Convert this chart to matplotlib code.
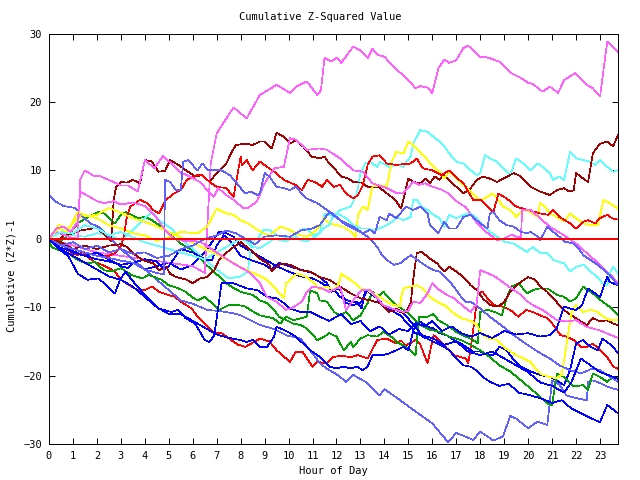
import matplotlib
matplotlib.use("Agg")
import matplotlib.pyplot as plt

# (hour, cumulative value), one list per trace
magenta_1 = [(0, 0), (1, -1), (2, -2), (3, -2.5), (4, -3), (5, -3.5), (6, -4), (6.5, -5), (6.75, 11),
             (7.0, 15.4), (7.7, 19.2), (8.25, 17.6), (8.8, 21), (9.5, 22.5), (10.06, 21.3), (10.3, 22.2),
             (10.76, 23), (11.2, 21), (11.35, 21.7), (11.5, 26.4), (11.8, 25.9), (12.0, 26.5), (12.2, 25.7),
             (12.7, 28.1), (13.0, 27.5), (13.3, 26.4), (13.5, 27.8), (13.7, 26.9), (14.0, 26.6), (14.5, 24.7),
             (14.8, 23.9), (15.3, 22), (15.5, 22.3), (15.8, 22.1), (16.0, 21.3), (16.25, 24.9), (16.5, 26.2),
             (16.7, 25.7), (17.0, 26.1), (17.3, 27.9), (17.5, 28.2), (18.0, 26.6), (18.3, 26.5), (18.8, 25.9),
             (19.3, 24.2), (19.7, 23.5), (20.0, 22.8), (20.2, 22.6), (20.6, 21.5), (20.9, 22.2), (21.0, 22.0),
             (21.25, 21.3), (21.5, 23.2), (21.96, 24.2), (22.45, 22.5), (22.7, 22.0), (23.0, 20.8), (23.3, 28.8),
             (23.75, 27.3)]
magenta_2 = [(0, 0), (0.3, 1), (0.6, 0.6), (0.9, 0.2), (1.2, 0), (1.3, 8.6), (1.5, 10), (1.9, 9.1), (2.1, 9.2),
             (2.5, 8.6), (3.0, 7.8), (3.3, 7.8), (3.7, 6.9), (4.0, 11.5), (4.4, 10.3), (4.76, 12.1), (5.1, 11.0),
             (5.5, 9.6), (5.7, 9.4), (6.3, 8.3), (6.87, 6.1), (7.06, 7.4), (7.4, 6.4), (7.7, 5.7), (8.1, 4.5),
             (8.3, 4.5), (8.67, 5.4), (9.0, 8.1), (9.4, 10.3), (9.8, 10.5), (10.06, 14.7), (10.3, 14.5),
             (10.76, 13), (11.3, 13.2), (11.6, 13.0), (12.15, 11.75), (12.7, 10), (13.1, 9.8), (13.5, 8.1),
             (14.1, 7.4), (14.5, 6.7), (14.75, 6.6), (14.9, 7.1), (15.2, 8.3), (15.45, 7.9), (15.7, 8.1),
             (16.0, 7.6), (16.3, 7.3), (16.6, 6.8), (17.0, 5.5), (17.4, 4.6), (17.8, 2.6), (18.2, 1.1),
             (18.7, -0.2), (19.0, 0.0), (19.3, 0.6), (19.5, 0.3), (19.7, 0.2), (19.75, 4.2), (20.1, 4.2),
             (20.5, 3.0), (20.9, 1.75), (21.5, 0.5), (22.0, -0.7), (22.45, -2.1), (23.0, -3.8), (23.5, -5.5),
             (23.75, -6.5)]
magenta_3 = [(0, 0), (0.3, 1.5), (0.6, 1.8), (0.9, 1.0), (1.2, 2.5), (1.3, 6.9), (1.6, 6.3), (2, 5.5),
             (2.3, 5.2), (2.7, 5.5), (3, 5), (3.5, 5.3), (4, 4.8), (4.5, 3), (4.8, 1.5), (5.2, 0), (5.6, -0.3),
             (6.3, -0.4), (7.0, -2), (7.7, -3.6), (8.4, -5), (8.8, -6.5), (9.1, -8.5), (9.5, -9.2), (9.9, -10.4),
             (10.2, -10), (10.55, -9.2), (10.76, -7.75), (11, -7), (11.35, -7.2), (11.7, -7.75), (12.15, -7),
             (12.4, -10.4), (12.7, -9), (13.05, -7.5), (13.4, -7.5), (13.6, -8.3), (13.95, -9.7), (14.4, -10.3),
             (14.8, -10.7), (15.0, -10.5), (15.2, -9.2), (15.5, -9.4), (15.8, -8), (16.0, -6.5), (16.3, -7.5),
             (16.6, -8.2), (16.9, -8.7), (17.3, -9.9), (17.6, -10.7), (17.85, -9.5), (18.0, -4.6), (18.3, -5.0),
             (18.6, -5.5), (18.8, -6), (19.2, -7), (19.7, -8.2), (19.9, -9), (20.2, -9.7), (20.6, -10.4),
             (21.2, -11.9), (21.6, -12.1), (22.0, -11.9), (22.45, -12.9), (23.0, -13.4), (23.4, -14.0),
             (23.75, -14.5)]
darkred_1 = [(0, 0), (0.3, -0.5), (0.6, 0.5), (1.0, 0.8), (1.3, 1.2), (2.0, 1.6), (2.25, 0.8), (2.5, 0),
             (2.6, -0.3), (2.7, 5.7), (2.8, 7.6), (3.0, 8.3), (3.25, 8.2), (3.5, 8.6), (3.7, 8.3), (3.8, 8.1),
             (4.0, 11.5), (4.3, 11.3), (4.56, 9.8), (4.84, 9.9), (5.05, 11.5), (5.4, 10.8), (5.8, 9.8),
             (6.1, 9.1), (6.4, 9.3), (6.7, 8.3), (7.0, 9.6), (7.4, 11), (7.6, 12.5), (7.8, 13.7), (8.2, 13.9),
             (8.5, 13.7), (8.8, 14.2), (9.0, 14.2), (9.3, 13.2), (9.5, 15.5), (9.8, 14.9), (10.06, 13.9),
             (10.3, 14.4), (10.6, 13.5), (10.97, 12), (11.3, 11.75), (11.5, 12), (11.7, 11), (11.9, 10.3),
             (12.2, 9.1), (12.5, 8.8), (12.7, 8.3), (13.05, 8.2), (13.3, 7.6), (13.75, 7.6), (14.0, 6.9),
             (14.45, 5.7), (14.7, 4.4), (15.0, 8.8), (15.2, 8.3), (15.5, 8.1), (15.7, 8.8), (15.9, 8.1),
             (16.1, 9.1), (16.3, 8.6), (16.5, 9.3), (16.7, 8.6), (17.0, 7.6), (17.3, 6.6), (17.6, 7.4),
             (17.86, 8.6), (18.1, 9.1), (18.4, 8.8), (18.7, 8.3), (18.97, 8.8), (19.4, 9.6), (19.7, 9.1),
             (20.1, 7.6), (20.5, 6.9), (20.9, 6.4), (21.2, 7.1), (21.5, 7.4), (21.7, 6.9), (21.9, 7.1),
             (22.0, 9.6), (22.3, 8.8), (22.5, 8.3), (22.7, 12.5), (23.0, 13.9), (23.3, 14.2), (23.55, 13.5),
             (23.75, 15.2)]
darkred_2 = [(0, 0), (0.5, -0.5), (1, -1.5), (1.5, -1), (2, -1.5), (2.5, -1), (3, -0.8), (3.25, -1.2),
             (3.5, -2.1), (3.9, -3.1), (4.35, -3.6), (4.6, -4.6), (4.9, -4.1), (5.05, -5.1), (5.3, -5.6),
             (5.75, -6.0), (6.0, -6.5), (6.3, -5.8), (6.6, -5.6), (6.9, -4.6), (7.1, -3.1), (7.55, -1.6),
             (8.0, -0.5), (8.4, -1.6), (8.8, -2.9), (9.2, -3.8), (9.3, -4.8), (9.65, -3.6), (10.06, -3.8),
             (10.5, -4.6), (10.9, -4.8), (11.3, -5.6), (11.7, -6.0), (12.15, -7.0), (12.6, -8.0), (13.0, -8.7),
             (13.4, -9.0), (13.8, -9.4), (14.2, -10.7), (14.5, -10.2), (14.8, -10.9), (14.9, -10.7),
             (15.1, -9.4), (15.2, -6.0), (15.35, -2.1), (15.55, -1.9), (15.9, -2.9), (16.2, -3.6), (16.5, -4.8),
             (16.7, -4.1), (17.0, -4.8), (17.3, -5.6), (17.6, -6.8), (17.86, -7.5), (18.1, -8.7), (18.4, -9.7),
             (18.7, -9.9), (18.97, -9.4), (19.25, -7.75), (19.46, -7.0), (19.7, -6.3), (20.0, -5.6),
             (20.3, -6.0), (20.5, -7.0), (20.8, -7.75), (21.05, -8.7), (21.3, -9.7), (21.6, -10.7),
             (21.9, -11.4), (22.2, -12.1), (22.45, -12.6), (22.7, -11.6), (23.0, -12.1), (23.3, -11.9),
             (23.55, -12.4), (23.75, -12.6)]
red_1 = [(0, 0), (0.25, -0.4), (0.67, -1.2), (0.95, -2.1), (1.2, -2.4), (1.4, -1.9), (1.6, -2.6), (1.9, -3.4),
         (2.2, -3.8), (2.5, -4.3), (2.75, -4.8), (3.0, -6.0), (3.45, -7.0), (3.7, -7.5), (4.0, -7.5), (4.3, -7.0),
         (4.6, -7.75), (4.98, -8.2), (5.26, -8.5), (5.5, -9.2), (5.96, -10.2), (6.2, -11.4), (6.65, -12.9),
         (6.9, -13.8), (7.2, -13.8), (7.6, -14.8), (7.9, -15.5), (8.2, -15.8), (8.5, -15.2), (8.8, -14.6),
         (9.2, -15), (9.5, -16.3), (10.06, -18), (10.3, -16.5), (10.6, -16.6), (11.0, -18.7), (11.2, -18.0),
         (11.6, -18.2), (11.86, -17.3), (12.2, -17.1), (12.6, -17.3), (12.9, -17.0), (13.3, -17.5),
         (13.7, -14.8), (14.1, -14.6), (14.5, -15.3), (14.7, -14.9), (14.9, -15.6), (15.3, -14.8),
         (15.5, -15.5), (15.8, -18.2), (16.05, -14.1), (16.3, -14.8), (16.6, -16), (16.9, -17), (17.2, -17.3),
         (17.4, -17.5), (17.5, -18.2), (17.65, -14.8), (17.9, -8.0), (18.1, -7.75), (18.3, -8.7), (18.6, -9.7),
         (18.9, -9.9), (19.25, -10.4), (19.6, -11.4), (19.9, -10.4), (20.2, -10.7), (20.5, -11.2),
         (20.8, -11.6), (21.05, -12.6), (21.35, -14.1), (21.6, -14.3), (21.9, -14.8), (22.2, -15.8),
         (22.45, -15.8), (22.7, -15.3), (23.0, -16.3), (23.3, -17.3), (23.55, -18.7), (23.75, -19.0)]
red_2 = [(0, 0), (0.5, -0.5), (1.0, -1.5), (1.5, -2), (2.0, -2.5), (2.5, -2.5), (2.8, -2), (3.0, -1),
         (3.1, 0), (3.25, 3.2), (3.4, 4.7), (3.8, 5.7), (4.1, 5.2), (4.35, 4.2), (4.6, 3.7), (4.8, 5.2),
         (4.9, 5.7), (5.2, 6.6), (5.5, 7.1), (5.75, 8.6), (6.2, 9.3), (6.4, 9.3), (6.7, 8.3), (7.0, 7.6),
         (7.4, 7.4), (7.7, 6.1), (8.0, 12), (8.05, 10.8), (8.25, 11.5), (8.5, 10), (8.8, 11.3), (9.1, 10.5),
         (9.4, 9.8), (9.8, 8.6), (10.3, 7.85), (10.55, 7.1), (10.8, 8.6), (11.1, 8.3), (11.4, 7.6), (11.6, 8.6),
         (11.9, 7.6), (12.15, 7.85), (12.4, 6.6), (12.7, 5.9), (12.9, 6.4), (13.1, 7.85), (13.3, 10.8),
         (13.5, 12), (13.8, 12.2), (14.1, 11.0), (14.5, 10.8), (15.1, 11.0), (15.35, 11.75), (15.6, 10.3),
         (16.0, 10.0), (16.4, 9.3), (16.7, 10.0), (16.95, 9.1), (17.3, 8.1), (17.7, 5.7), (18.0, 5.7),
         (18.55, 3.9), (18.76, 6.6), (19.1, 5.9), (19.5, 4.7), (20.0, 4.2), (20.5, 3.7), (20.85, 3.5),
         (21.05, 4.2), (21.3, 3.2), (21.75, 2.25), (22.0, 1.5), (22.3, 2.5), (22.5, 2.7), (22.8, 2.25),
         (23.0, 3.0), (23.3, 3.5), (23.5, 3.0), (23.75, 2.8)]
green_1 = [(0, 0), (0.4, -0.5), (0.8, 0.5), (1.2, 2.25), (1.4, 2.7), (1.8, 3.5), (2.06, 3.9), (2.3, 3.7),
           (2.6, 2.7), (2.75, 2.25), (3.0, 3.5), (3.2, 3.9), (3.45, 3.5), (3.7, 3.0), (4.0, 3.2), (4.3, 2.7),
           (4.7, 1.75), (5.1, 0.5), (5.5, -0.7), (5.96, -1.65), (6.2, -2.4), (6.5, -3.6), (6.8, -4.6),
           (7.1, -5.5), (7.4, -6.5), (7.7, -7.2), (8.0, -7.75), (8.25, -8.0), (8.5, -8.2), (8.8, -9.0),
           (9.1, -9.4), (9.4, -10.4), (9.6, -11.4), (9.9, -11.9), (10.2, -12.4), (10.5, -12.6), (10.76, -13.1),
           (11.2, -14.8), (11.5, -14.3), (11.7, -13.8), (12.0, -14.3), (12.15, -15.3), (12.3, -16.3),
           (12.6, -15.1), (12.7, -15.8), (13.0, -14.6), (13.3, -14.1), (13.7, -14.3), (13.96, -13.6),
           (14.4, -14.6), (14.5, -15.1), (14.9, -15.8), (15.3, -17.0), (15.45, -11.4), (15.8, -11.4),
           (16.05, -11.0), (16.25, -11.9), (16.6, -12.6), (17.0, -13.6), (17.4, -14.3), (17.7, -14.8),
           (17.9, -15.3), (18.0, -10.7), (18.3, -10.4), (18.6, -10.7), (18.9, -11.2), (19.1, -8.7),
           (19.3, -7.0), (19.6, -6.5), (19.95, -8.0), (20.2, -7.5), (20.5, -7.25), (20.8, -7.25), (21.2, -8.2),
           (21.5, -8.5), (21.75, -9.2), (22.0, -8.7), (22.3, -7.0), (22.5, -7.5), (22.7, -8.0), (23.1, -9.2),
           (23.5, -10.2), (23.75, -11.2)]
green_2 = [(0, 0), (0.1, -1.2), (0.4, -1.65), (0.8, -2.1), (1.1, -2.9), (1.4, -3.4), (1.6, -3.6), (1.9, -3.4),
           (2.3, -4.6), (2.6, -4.8), (3.0, -4.3), (3.45, -5.3), (3.9, -5.8), (4.15, -5.3), (4.4, -5.6),
           (4.7, -6.0), (5.0, -6.8), (5.4, -7.25), (5.7, -7.75), (5.96, -8.5), (6.2, -9.0), (6.5, -8.5),
           (6.8, -9.4), (7.1, -10.4), (7.5, -9.7), (7.9, -9.7), (8.2, -9.9), (8.4, -10.4), (8.8, -11.2),
           (9.35, -11.6), (9.65, -12.4), (9.9, -11.4), (10.2, -11.9), (10.76, -11.4), (10.9, -7.5), (11.2, -8.0),
           (11.3, -9.0), (11.6, -9.2), (11.9, -10.7), (12.15, -11.2), (12.4, -10.7), (12.7, -11.9), (13.0, -11.2),
           (13.3, -9.4), (13.5, -7.75), (13.7, -8.5), (13.96, -7.75), (14.2, -8.7), (14.5, -9.7), (14.8, -10.4),
           (15.1, -11.2), (15.5, -12.6), (15.9, -13.3), (16.3, -13.6), (16.7, -14.3), (17.2, -14.8),
           (17.6, -15.5), (18.0, -16.3), (18.4, -17.3), (18.8, -18.5), (19.25, -19.4), (19.7, -20.7),
           (20.1, -21.9), (20.5, -23.1), (20.8, -24.1), (21.0, -24.3), (21.2, -19.7), (21.5, -20.2),
           (21.9, -21.6), (22.3, -21.4), (22.5, -22.1), (22.7, -19.7), (23.0, -20.2), (23.3, -20.9),
           (23.55, -20.2), (23.75, -20.4)]
blue_1 = [(0, 0), (0.3, -0.8), (0.7, -1.2), (1, -2), (1.5, -2.5), (2, -3), (2.5, -3.3), (3, -3.8), (3.5, -3.5),
          (4, -4.5), (4.5, -4), (5, -3.5), (5.5, -4.5), (6, -3.8), (6.5, -2), (6.8, -0.5), (7.1, 1.0), (7.4, 0.8),
          (7.7, 0.3), (8, -1), (8.5, -2), (9, -3), (9.5, -4), (10, -4.8), (10.5, -5.5), (11, -5.8), (11.3, -6.3),
          (11.6, -7.0), (11.9, -7.5), (12.15, -8.5), (12.6, -9.2), (12.85, -9.2), (13.05, -10.2), (13.2, -7.5),
          (13.5, -7.75), (13.8, -9.2), (14.1, -10.2), (14.4, -10.7), (14.65, -11.2), (14.9, -12.1),
          (15.2, -13.3), (15.5, -12.1), (15.8, -12.9), (16.05, -13.1), (16.3, -13.8), (16.6, -14.1),
          (16.9, -14.8), (17.2, -15.3), (17.4, -15.8), (17.7, -16.5), (18.0, -16.5), (18.3, -17.0),
          (18.55, -17.0), (18.8, -15.8), (19.1, -16.3), (19.4, -17.7), (19.7, -18.7), (20.1, -19.4),
          (20.5, -19.9), (20.9, -20.2), (21.2, -20.7), (21.5, -21.4), (21.75, -19.2), (22.0, -15.3),
          (22.3, -14.8), (22.6, -15.8), (22.9, -16.3), (23.1, -14.6), (23.3, -15.1), (23.55, -15.8),
          (23.75, -16.75)]
blue_2 = [(0, 0), (0.3, -1), (0.6, -1.5), (1, -1.8), (1.5, -2.5), (2, -2), (2.5, -3), (3, -4), (3.3, -4.3),
          (3.5, -3.5), (4, -3), (4.5, -3.3), (4.8, -4.5), (5, -4), (5.3, -2.5), (5.5, -1.5), (6, -2), (6.5, -3),
          (6.8, -3.2), (7, -1), (7.3, 0.5), (7.6, -0.5), (8, -2.5), (8.5, -3.2), (9, -3.8), (9.3, -4.5),
          (9.6, -3.5), (10, -4), (10.5, -4.5), (11, -5), (11.3, -5.6), (11.6, -6.5), (11.8, -7.75), (12.0, -7.25),
          (12.15, -7.5), (12.4, -9.4), (12.7, -9.7), (13.0, -9.4), (13.1, -8.7), (13.3, -7.5), (13.4, -8.0),
          (13.7, -8.7), (13.96, -9.7), (14.2, -10.4), (14.5, -10.4), (14.8, -10.9), (15.1, -12.1),
          (15.35, -13.1), (15.6, -14.3), (15.9, -14.8), (16.2, -15.3), (16.5, -15.8), (16.7, -16.3),
          (17.0, -17.5), (17.3, -18.5), (17.6, -18.7), (17.9, -19.4), (18.1, -20.2), (18.4, -20.9),
          (18.8, -21.5), (19.2, -21.2), (19.6, -22.5), (20.0, -22.8), (20.5, -23.3), (21.0, -24.0),
          (21.4, -23.6), (21.8, -24.8), (22.2, -25.5), (22.6, -26.2), (23.0, -26.8), (23.3, -24.3),
          (23.75, -25.5)]
blue_3 = [(0, 0), (0.4, -1.5), (0.8, -2.5), (1.2, -5.1), (1.6, -6.0), (2.06, -5.8), (2.3, -6.5), (2.75, -8.0),
          (2.96, -6.0), (3.2, -4.8), (3.45, -6.0), (3.7, -7.0), (4.0, -8.2), (4.56, -10.2), (5.1, -10.7),
          (5.4, -10.4), (5.7, -11.6), (6.1, -12.4), (6.5, -14.8), (6.7, -15.1), (6.9, -14.1), (7.07, -9.9),
          (7.2, -6.5), (7.7, -6.5), (8.25, -7.25), (8.7, -7.5), (9.1, -8.5), (9.5, -8.7), (9.8, -9.4),
          (10.06, -10.2), (10.5, -10.7), (10.9, -10.7), (11.3, -11.4), (11.7, -12), (12.2, -11), (12.6, -12.5),
          (13, -12), (13.4, -13.5), (13.8, -12.8), (14.2, -14), (14.6, -13.2), (15, -13.5), (15.3, -12.3),
          (15.7, -12.8), (16, -12), (16.4, -13.5), (16.8, -12.8), (17.2, -13.8), (17.6, -14.3), (18, -13.8),
          (18.5, -14.5), (19, -13.5), (19.5, -14), (20, -13.8), (20.5, -14.3), (20.9, -14.1), (21.2, -13),
          (21.5, -9.9), (21.75, -10.2), (22.0, -10.4), (22.25, -9.7), (22.5, -7.25), (22.7, -7.75),
          (23.0, -8.5), (23.15, -7.0), (23.3, -5.6), (23.4, -6.3), (23.75, -6.8)]
blue_4 = [(0, 0), (0.3, -1), (0.6, -1.8), (1, -2.5), (1.5, -3.5), (2, -4.5), (2.5, -5.5), (3, -6), (3.5, -7),
          (4, -8.5), (4.5, -10), (5, -11), (5.5, -11), (6, -12), (6.5, -13), (7, -14), (7.5, -14.5), (8.0, -14.8),
          (8.25, -15.1), (8.5, -14.8), (8.8, -15.8), (9.1, -15.8), (9.4, -14.3), (9.5, -12.9), (9.8, -13.3),
          (10.06, -13.8), (10.3, -14.3), (10.6, -15.3), (10.9, -16.3), (11.2, -17.0), (11.45, -17.7),
          (11.7, -18.7), (12.0, -18.95), (12.3, -18.7), (12.6, -18.95), (12.85, -18.7), (13.1, -19.2),
          (13.3, -18.7), (13.5, -17.0), (13.96, -17.0), (14.2, -16.75), (14.5, -16.3), (14.8, -15.8),
          (15.0, -16.3), (15.2, -13.6), (15.5, -14.1), (16, -14.5), (16.5, -15.5), (17, -15), (17.5, -16.5),
          (18, -17), (18.5, -16.5), (19, -17.5), (19.5, -18.5), (20, -19.5), (20.5, -21), (21, -21.5),
          (21.5, -22.5), (21.8, -21), (22.2, -17.5), (22.6, -18.5), (23, -19.5), (23.4, -20), (23.75, -20.5)]
slate_1 = [(0, 6.4), (0.3, 5.4), (0.6, 4.8), (1.1, 4.5), (1.3, 3.7), (1.5, 2.9), (1.75, 2.2), (2.1, 1.7),
           (2.5, 0.3), (3.0, -1.5), (3.5, -3), (4, -4.5), (4.5, -6), (5, -7.5), (5.5, -9), (6, -9.5),
           (6.6, -10.4), (7.2, -10.6), (7.7, -10.9), (8.0, -11.2), (8.8, -12.6), (9.4, -13.2), (9.9, -14.1),
           (10.5, -14.6), (11.0, -16.75), (11.3, -18.2), (11.6, -19), (12.0, -19.8), (12.4, -20.9),
           (12.7, -19.9), (13.2, -20.9), (13.8, -22.9), (14.0, -22.0), (14.5, -23.2), (15.2, -25.0),
           (16.0, -27.0), (16.65, -29.7), (17.0, -28.4), (17.3, -28.8), (17.7, -29.4), (18.0, -28.2),
           (18.3, -28.9), (18.55, -29.5), (18.95, -28.9), (19.25, -25.9), (19.5, -26.3), (20.0, -27.7),
           (20.4, -26.7), (20.6, -27.0), (20.8, -27.2), (21.0, -20.7), (21.3, -21.3), (21.6, -22.9),
           (22.0, -23.3), (22.45, -23.6), (22.5, -20.9), (22.7, -20.7), (23.0, -21.1), (23.3, -21.6),
           (23.75, -22.1)]
slate_2 = [(0, 0), (0.5, -1), (1, -1.5), (1.5, -2), (2, -2.5), (2.5, -2.8), (3, -3.2), (3.5, -3.5), (4, -4.5),
           (4.5, -5), (4.8, -5.2), (4.84, 8.6), (5.05, 8.3), (5.3, 7.1), (5.5, 7.1), (5.6, 11.25), (5.8, 11.5),
           (6.2, 10.0), (6.4, 11.0), (6.65, 10.0), (7.0, 10.0), (7.2, 10.0), (7.55, 9.3), (7.8, 8.3), (8.0, 7.4),
           (8.2, 6.6), (8.4, 6.9), (8.7, 6.4), (8.8, 6.6), (9.0, 9.6), (9.2, 9.1), (9.5, 7.6), (9.8, 7.4),
           (10.06, 7.1), (10.3, 7.6), (10.55, 6.6), (10.76, 5.9), (11.2, 5.2), (11.6, 4.2), (11.9, 3.5),
           (12.15, 2.7), (12.4, 2.0), (12.7, 1.5), (13.0, 1.0), (13.3, 0.3), (13.5, -0.4), (13.7, -1.2),
           (13.9, -2.4), (14.1, -3.1), (14.4, -3.8), (14.65, -3.6), (14.9, -2.9), (15.1, -2.4), (15.5, -3.4),
           (15.8, -4.1), (16.05, -4.6), (16.3, -4.8), (16.6, -5.8), (16.9, -7.0), (17.2, -8.5), (17.4, -9.2),
           (17.6, -9.2), (18.0, -10.2), (18.4, -11.4), (18.97, -12.9), (19.4, -14.1), (19.8, -15.1),
           (20.4, -16.5), (20.9, -17.5), (21.3, -18.5), (21.75, -19.2), (22.2, -19.7), (22.4, -19.4),
           (22.7, -18.95), (23.0, -19.2), (23.3, -19.9), (23.75, -20.9)]
slate_3 = [(0, 0), (0.5, -1), (1, -0.5), (1.5, -1.5), (2, -1), (2.5, -2), (3, -1.5), (3.5, -2.2), (4, -2),
           (4.5, -2.8), (5, -2.5), (5.5, -1.5), (6, -1), (6.5, 0), (7, 0.5), (7.4, 1.2), (7.8, 0.8), (8.2, 0),
           (8.6, -0.8), (9, 0.3), (9.5, 0.5), (10.06, 0.3), (10.5, 1.2), (11, 1.5), (11.3, 2.0), (11.7, 3.9),
           (12.15, 2.7), (12.7, 1.75), (13.1, 0.8), (13.4, 1.3), (13.6, 0.8), (13.8, 3.2), (14.1, 2.7),
           (14.2, 3.7), (14.5, 3.0), (14.9, 4.7), (15.2, 4.2), (15.5, 4.7), (15.8, 3.7), (15.9, 2.0),
           (16.25, 0.8), (16.5, 2.5), (16.7, 1.5), (17.0, 1.5), (17.3, 3.2), (17.6, 3.5), (18.0, 2.25),
           (18.3, 1.5), (18.4, 3.7), (18.55, 3.9), (18.8, 2.7), (19.1, 2.0), (19.4, 1.75), (19.7, 1.0),
           (19.95, 0.8), (20.1, 1.0), (20.4, 0.3), (20.5, -0.2), (20.8, 1.75), (21.05, 1.0), (21.3, 0.3),
           (21.5, -0.4), (21.9, -0.7), (22.1, -1.4), (22.3, -2.4), (22.9, -3.8), (23.4, -5.3), (23.75, -6.8)]
cyan_1 = [(0, 0), (0.5, 1), (1, 0.5), (1.5, 0.3), (2, 0.8), (2.5, 0.5), (3, -0.2), (3.5, 1.3), (4, 3.0),
          (4.3, 3.9), (4.6, 2.7), (5.1, 1.5), (5.5, 0), (6, -1.5), (6.5, -3), (7, -4.5), (7.5, -5.8), (8.0, -5.5),
          (8.3, -4.8), (8.45, -0.3), (8.7, 0), (8.95, 1.3), (9.2, 1.3), (9.5, 0.5), (9.8, 0.3), (10.2, 0),
          (10.5, 1.3), (10.76, 1.5), (11.0, 0.5), (11.3, 0.8), (11.5, 3.7), (11.7, 3.5), (11.9, 3.2),
          (12.15, 4.2), (12.6, 4.7), (12.85, 6.6), (13.0, 9.6), (13.2, 11.0), (13.4, 11.25), (13.7, 10.5),
          (13.8, 11.25), (13.96, 11.0), (14.2, 10.5), (14.5, 10.8), (14.8, 10.5), (14.9, 11.25), (15.1, 12.0),
          (15.2, 13.9), (15.5, 15.9), (15.8, 15.6), (16.05, 14.9), (16.3, 14.2), (16.5, 13.5), (16.7, 12.5),
          (17.0, 11.25), (17.3, 11.0), (17.6, 10.0), (17.86, 9.3), (18.0, 9.6), (18.2, 12.2), (18.4, 11.75),
          (18.7, 11.25), (18.97, 10.3), (19.25, 9.3), (19.5, 11.75), (19.8, 11.0), (20.1, 10.0), (20.4, 11.0),
          (20.6, 10.5), (20.9, 9.6), (21.05, 8.6), (21.3, 9.1), (21.5, 8.6), (21.75, 12.7), (22.0, 11.75),
          (22.3, 11.5), (22.6, 11.25), (22.8, 10.8), (23.0, 11.5), (23.3, 10.5), (23.55, 9.8), (23.75, 10.0)]
cyan_2 = [(0, 0), (0.5, 1), (1, 0.8), (1.5, 2), (2, 1.5), (2.5, 0.5), (3, 1), (3.5, 0.2), (4, -0.5), (4.5, -1),
          (5, -1.5), (5.5, -2), (6, -2.5), (6.5, -3), (7, -2), (7.5, -1), (8.0, 0), (8.25, -0.4), (8.5, -1.2),
          (8.8, -1.4), (9.1, -0.7), (9.4, 0), (9.65, -0.2), (9.9, -0.4), (10.3, 0.3), (10.5, -0.2), (10.76, -0.4),
          (11.2, 0.5), (11.45, 1.5), (11.7, 2.0), (11.9, 3.7), (12.15, 3.5), (12.4, 3.0), (12.7, 2.0),
          (13.0, 1.5), (13.3, 1.5), (13.5, 1.3), (13.8, 1.5), (14.1, 2.0), (14.4, 2.7), (14.5, 3.2),
          (14.8, 2.7), (15.1, 3.2), (15.2, 5.7), (15.35, 5.7), (15.55, 4.7), (15.8, 4.2), (16.05, 3.5),
          (16.3, 3.0), (16.5, 1.75), (16.7, 3.5), (17.0, 3.0), (17.3, 3.5), (17.6, 3.7), (17.86, 3.0),
          (18.1, 2.0), (18.4, 1.0), (18.7, 0.3), (19.0, -0.4), (19.4, -0.7), (19.7, -1.4), (19.95, -1.9),
          (20.2, -1.2), (20.5, -2.1), (20.8, -2.1), (21.05, -3.1), (21.5, -3.6), (21.75, -4.8), (22.0, -4.1),
          (22.3, -3.8), (22.6, -4.8), (22.9, -5.6), (23.1, -6.5), (23.3, -6.8), (23.4, -5.1), (23.55, -4.1),
          (23.75, -5.1)]
yellow_1 = [(0, 0), (0.4, 2), (0.8, 1.5), (1.2, 3), (1.5, 3.5), (2, 3), (2.5, 2), (3, 1.5), (3.5, 0.8), (4, 0.5),
            (4.5, -0.3), (5, 0.2), (5.5, 1), (6.2, 0.8), (6.6, 1.75), (7.0, 4.4), (7.4, 3.7), (7.7, 3.5),
            (8.0, 2.7), (8.3, 2.25), (8.7, 1.3), (8.95, 0.8), (9.2, 0.5), (9.4, 1.0), (9.65, 1.75), (9.9, 1.5),
            (10.2, 1.0), (10.5, 0.5), (10.76, 0.3), (11.0, 0.8), (11.3, 1.75), (11.45, 3.0), (11.7, 2.25),
            (12.0, 2.0), (12.3, 1.75), (12.6, 1.0), (12.8, 0.3), (12.9, 3.5), (13.1, 4.7), (13.3, 4.2),
            (13.4, 5.9), (13.5, 7.6), (13.8, 7.85), (14.1, 7.6), (14.3, 11.25), (14.5, 12.7), (14.8, 12.5),
            (15.0, 14.2), (15.2, 13.7), (15.5, 12.7), (15.8, 11.5), (16.05, 10.5), (16.3, 9.8), (16.5, 8.8),
            (16.7, 9.8), (17.0, 8.8), (17.3, 7.85), (17.6, 6.9), (17.86, 5.9), (18.1, 5.7), (18.5, 6.6),
            (18.7, 5.9), (18.97, 4.7), (19.25, 4.2), (19.5, 3.2), (19.8, 4.2), (20.1, 3.9), (20.4, 3.2),
            (20.5, 5.2), (20.7, 4.7), (20.9, 3.7), (21.2, 3.2), (21.5, 2.5), (21.75, 3.7), (22.0, 3.0),
            (22.3, 2.25), (22.6, 2.0), (22.9, 2.0), (23.15, 5.7), (23.4, 5.2), (23.75, 4.4)]
yellow_2 = [(0, 0), (0.4, 1.5), (0.8, 1.0), (1.2, 4), (1.5, 3.3), (2, 3.5), (2.5, 4.5), (3, 3.8), (3.5, 3.0),
            (4, 2.5), (4.5, 1.8), (5, 1), (5.5, 0.2), (5.75, -0.2), (6.9, -2.1), (8.0, -4.1), (9.1, -6.0),
            (9.5, -7.5), (9.8, -8.7), (9.9, -6.5), (10.35, -5.1), (10.76, -5.6), (11.0, -6.3), (11.3, -7.4),
            (11.6, -7.0), (11.9, -7.5), (12.1, -6.5), (12.2, -5.1), (12.4, -5.6), (12.7, -6.3), (13.0, -7.25),
            (13.3, -7.5), (13.5, -8.0), (13.8, -8.5), (14.1, -9.2), (14.4, -9.7), (14.65, -9.9), (14.7, -8.5),
            (14.8, -7.25), (15.1, -7.0), (15.35, -6.8), (15.6, -7.25), (15.9, -8.5), (16.2, -9.2), (16.6, -9.9),
            (16.9, -10.9), (17.2, -11.6), (17.6, -12.0), (17.86, -12.6), (18.1, -14.1), (18.4, -14.6),
            (18.7, -14.8), (18.97, -15.8), (19.25, -16.5), (19.5, -17.0), (19.8, -17.5), (20.1, -18.0),
            (20.4, -19.4), (20.6, -19.9), (20.9, -20.2), (21.2, -20.4), (21.4, -19.9), (21.6, -15.5),
            (21.8, -10.9), (22.0, -9.7), (22.3, -10.7), (22.6, -10.4), (22.9, -10.7), (23.15, -11.4),
            (23.4, -11.9), (23.75, -11.9)]

# drawing order and colours
series = [
    (red_1, "#ff0000"), (green_1, "#00a000"), (blue_1, "#0000ff"), (magenta_1, "#ff60ff"),
    (cyan_1, "#60ffff"), (darkred_1, "#a00000"), (yellow_1, "#ffff00"), (slate_1, "#6060ff"),
    (red_2, "#ff0000"), (green_2, "#00a000"), (blue_2, "#0000ff"), (magenta_2, "#ff60ff"),
    (cyan_2, "#60ffff"), (darkred_2, "#a00000"), (yellow_2, "#ffff00"), (slate_2, "#6060ff"),
    (blue_3, "#0000ff"), (magenta_3, "#ff60ff"), (slate_3, "#6060ff"), (blue_4, "#0000ff"),
]

hours = list(range(0, 24))
yticks = [-30, -20, -10, 0, 10, 20, 30]

plt.rcParams["font.family"] = "DejaVu Sans Mono"
plt.rcParams["font.size"] = 7.5

fig = plt.figure(figsize=(6.4, 4.8), dpi=100)
ax = fig.add_axes([49 / 640, 36 / 480, 569 / 640, 410.5 / 480])

for pts, color in series:
    xs = [p[0] for p in pts]
    ys = [p[1] for p in pts]
    ax.plot(xs, ys, color=color, lw=0.5, antialiased=False)

# zero reference line
ax.axhline(0, color="#ff0000", lw=1.4, antialiased=False)

ax.set_xlim(0, 23.75)
ax.set_ylim(-30, 30)
ax.set_xticks(hours)
ax.set_yticks(yticks)
ax.tick_params(direction="in", length=4.5, width=0.7, top=True, right=True,
               labelsize=7.5, pad=5, colors="black")
for s in ax.spines.values():
    s.set_linewidth(0.7)

ax.set_xlabel("Hour of Day", fontsize=7.5, labelpad=4)
fig.text(0.5, 1 - 16.5 / 480, "Cumulative Z-Squared Value", ha="center", va="center", fontsize=7.5)
fig.text(11.5 / 640, 1 - 276 / 480, "Cumulative (Z*Z)-1", rotation=90, ha="center", va="center", fontsize=7.5)

fig.savefig("out.png", dpi=100)
